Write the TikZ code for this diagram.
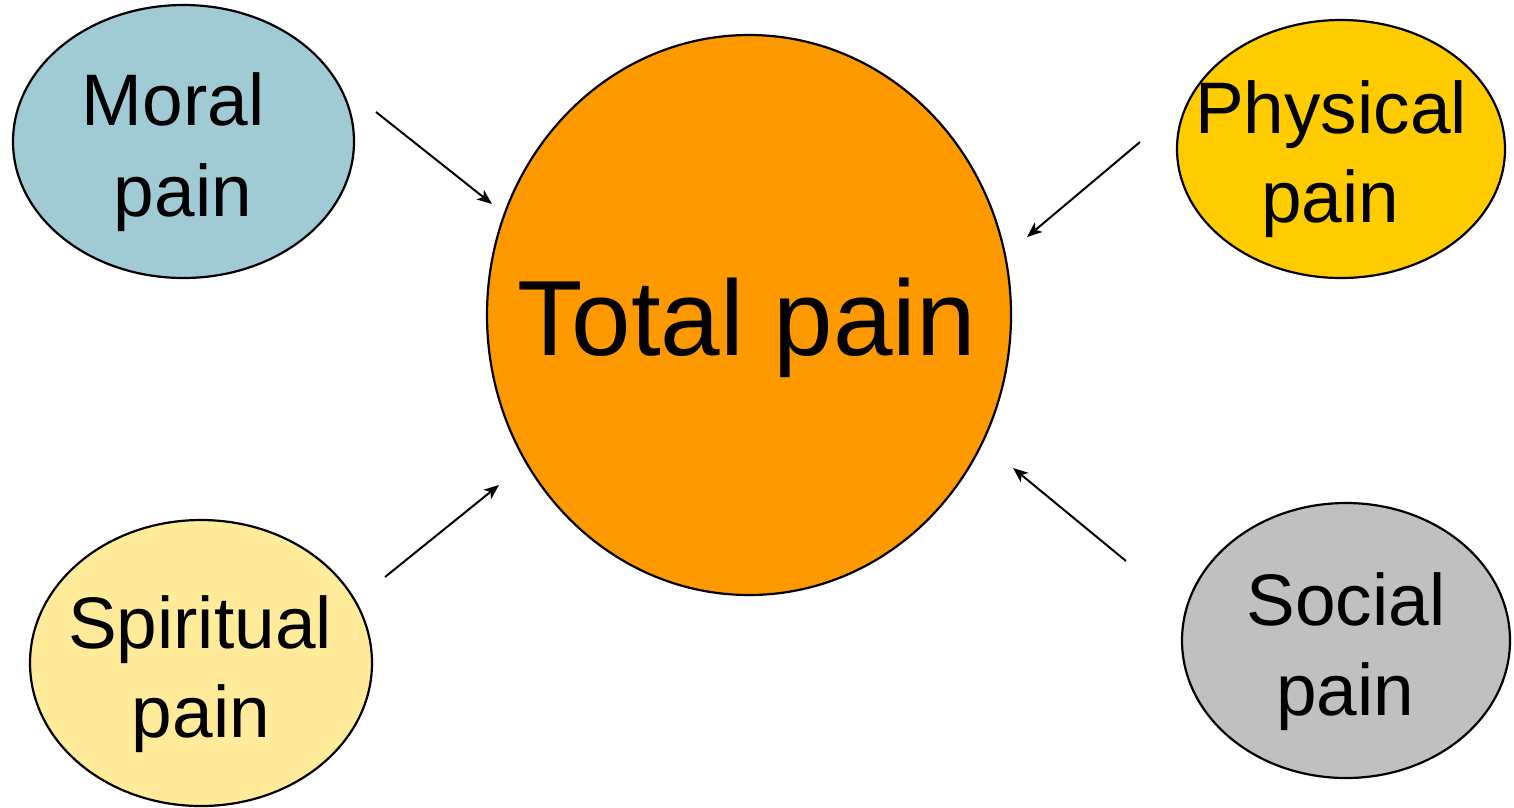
\documentclass[tikz,border=0pt]{standalone}
\usepackage{fontspec}
\setmainfont{Liberation Sans}
\usetikzlibrary{arrows.meta}
\definecolor{moralc}{HTML}{A0CAD4}
\definecolor{physc}{HTML}{FFCC00}
\definecolor{spirc}{HTML}{FFEB99}
\definecolor{socc}{HTML}{C0C0C0}
\definecolor{totalc}{HTML}{FF9900}
\tikzset{
  blob/.style={draw=black, line width=2.2pt},
  lbl/.style={anchor=base, inner sep=0pt, font=\fontsize{73}{73}\selectfont},
  biglbl/.style={anchor=base, inner sep=0pt, font=\fontsize{107}{107}\selectfont},
  arr/.style={line width=2pt, -{Stealth[length=15pt,width=12pt,inset=4pt]}}
}
\begin{document}
\begin{tikzpicture}[x=1pt,y=-1pt]
\useasboundingbox (0,0) rectangle (1514,807);
% ellipses
\draw[blob, fill=totalc] (749,315) ellipse [x radius=262, y radius=280];
\draw[blob, fill=moralc] (183.5,141.5) ellipse [x radius=170.5, y radius=136.5];
\draw[blob, fill=physc] (1341,149) ellipse [x radius=164, y radius=129];
\draw[blob, fill=spirc] (201,663) ellipse [x radius=171, y radius=143];
\draw[blob, fill=socc] (1346,640.5) ellipse [x radius=164, y radius=137.5];
% labels
\node[biglbl] (total) at (747,355) {Total pain};
\node[lbl] (moral1) at (173,125) {Moral};
\node[lbl] (moral2) at (183,216) {pain};
\node[lbl] (phys1) at (1331,133) {Physical};
\node[lbl] (phys2) at (1330,222) {pain};
\node[lbl] (spir1) at (200,648) {Spiritual};
\node[lbl] (spir2) at (201,737) {pain};
\node[lbl] (soc1) at (1346,625) {Social};
\node[lbl] (soc2) at (1345,715) {pain};
% arrow endpoints
\coordinate (ma) at (376,112);
\coordinate (mb) at (492,204);
\coordinate (pa) at (1140,142);
\coordinate (pb) at (1027,237);
\coordinate (sa) at (385,577);
\coordinate (sb) at (499,485);
\coordinate (oa) at (1126,561);
\coordinate (ob) at (1013,468);
\draw[arr] (ma) -- (mb);
\draw[arr] (pa) -- (pb);
\draw[arr] (sa) -- (sb);
\draw[arr] (oa) -- (ob);
\end{tikzpicture}
\end{document}
